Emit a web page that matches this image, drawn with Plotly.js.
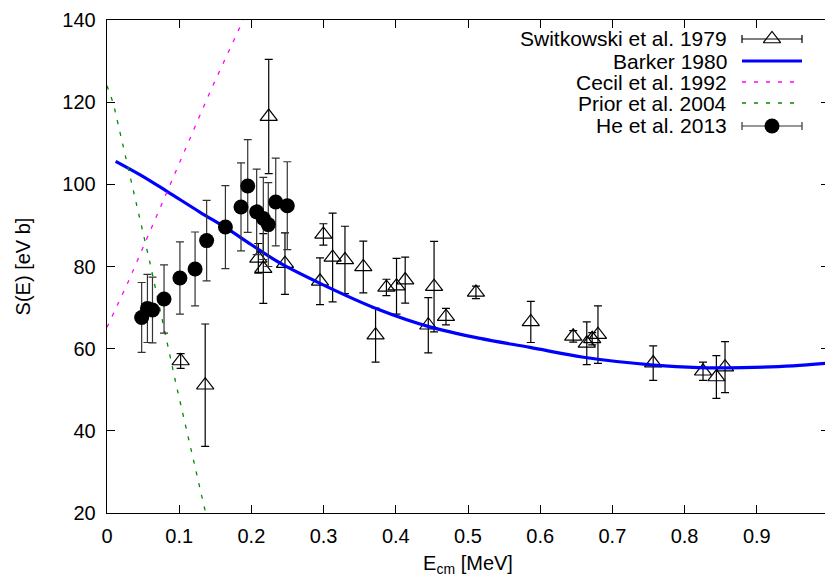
<!DOCTYPE html>
<html>
<head>
<meta charset="utf-8">
<script src="https://cdn.plot.ly/plotly-3.0.1.min.js"></script>
<style>
html,body{margin:0;padding:0;overflow:hidden;background:#fff;}
#chart{width:832px;height:579px;}
</style>
</head>
<body>
<div id="chart"></div>
<script>
// ---- Data ----
// Switkowski et al. 1979 (open triangles)
const swE   = [0.102, 0.136, 0.2096, 0.2165, 0.224, 0.2465, 0.295, 0.2997, 0.3125, 0.3296, 0.355, 0.372, 0.387, 0.401, 0.413, 0.445, 0.453, 0.4695, 0.511, 0.587, 0.6457, 0.6645, 0.672, 0.680, 0.7565, 0.8255, 0.844, 0.856];
const swS   = [57.0, 51.1, 82.0, 79.5, 116.5, 80.7, 76.4, 87.8, 82.2, 81.6, 79.9, 63.3, 74.9, 75.2, 76.7, 65.7, 75.1, 67.8, 73.7, 66.5, 63.0, 61.3, 62.4, 63.4, 56.5, 54.5, 53.1, 55.5];
const swErr = [1.8, 14.9, 3.6, 8.5, 13.9, 7.5, 5.7, 2.6, 10.8, 8.2, 6.3, 6.6, 2.0, 6.8, 5.6, 6.7, 11.0, 2.0, 1.5, 5.0, 1.4, 5.2, 1.5, 7.0, 4.2, 2.2, 5.2, 6.2];

// Barker 1980 (solid blue curve)
const barkerE = [0.012, 0.046, 0.083, 0.129, 0.165, 0.2, 0.24, 0.295, 0.378, 0.447, 0.517, 0.586, 0.66, 0.757, 0.82, 0.88, 0.95, 1.0];
const barkerS = [105.6, 102.3, 98.3, 93.2, 89.4, 85.3, 80.8, 75.9, 69.4, 65.3, 62.5, 60.3, 57.9, 56.0, 55.4, 55.4, 55.8, 56.5];

// Cecil et al. 1992 (magenta dashed)
const cecilE = [0.0, 0.0305, 0.1437, 0.19];
const cecilS = [65.2, 76.7, 122.9, 140.5];

// Prior et al. 2004 (green dashed)
const priorE = [0.0, 0.0088, 0.0596, 0.0965, 0.1357, 0.137];
const priorS = [124.0, 119.7, 80.8, 50.7, 20.7, 19.5];

// He et al. 2013 (filled circles)
const heE   = [0.048, 0.056, 0.063, 0.079, 0.101, 0.122, 0.138, 0.164, 0.1856, 0.1949, 0.2073, 0.2165, 0.2234, 0.2337, 0.2497];
const heS   = [67.6, 69.8, 69.4, 72.1, 77.2, 79.4, 86.3, 89.6, 94.5, 99.6, 93.3, 91.7, 90.2, 95.7, 94.8];
const heErr = [8.5, 8.3, 8.0, 8.3, 8.8, 9.0, 9.8, 10.1, 10.7, 11.3, 10.4, 10.0, 10.2, 10.7, 10.7];

// Axis ticks
const xTicks = [0, 0.1, 0.2, 0.3, 0.4, 0.5, 0.6, 0.7, 0.8, 0.9];
const xTickText = ['0', '0.1', '0.2', '0.3', '0.4', '0.5', '0.6', '0.7', '0.8', '0.9'];
const yTicks = [20, 40, 60, 80, 100, 120, 140];

const legendNames = ['Switkowski et al. 1979', 'Barker 1980', 'Cecil et al. 1992', 'Prior et al. 2004', 'He et al. 2013'];

// ---- Plot ----
const FONT = '"Liberation Sans", Arial, Helvetica, sans-serif';
const triMarker = {symbol: 'triangle-up-open', size: 15, color: 'black', line: {width: 1.2, color: 'black'}};
const traces = [
  {x: swE, y: swS, type: 'scatter', mode: 'markers', marker: triMarker,
   error_y: {type: 'data', array: swErr, visible: true, color: 'black', thickness: 1.2, width: 4},
   showlegend: false},
  {x: barkerE, y: barkerS, type: 'scatter', mode: 'lines',
   line: {color: '#0000ff', width: 3.2, shape: 'spline', smoothing: 1}, showlegend: false},
  {x: cecilE, y: cecilS, type: 'scatter', mode: 'lines',
   line: {color: '#ff00ff', width: 1.3, dash: '4px,8px'}, showlegend: false},
  {x: priorE, y: priorS, type: 'scatter', mode: 'lines',
   line: {color: '#008c00', width: 1.3, dash: '4px,8px'}, showlegend: false},
  {x: heE, y: heS, type: 'scatter', mode: 'markers',
   marker: {symbol: 'circle', size: 15, color: 'black'},
   error_y: {type: 'data', array: heErr, visible: true, color: '#333', thickness: 1.2, width: 4},
   showlegend: false}
];

// Legend (gnuplot style: text right-aligned, sample to the right)
const L = {textX: 0.8615, x0: 0.8795, x1: 0.9626, rows: [0.9615, 0.9168, 0.8742, 0.8316, 0.785]};
const xm = (L.x0 + L.x1) / 2, hw = (L.x1 - L.x0) / 2;
traces.push({x: [xm], y: [L.rows[0]], xaxis: 'x2', yaxis: 'y2', type: 'scatter', mode: 'markers',
  marker: triMarker,
  error_x: {type: 'constant', value: hw, visible: true, color: 'black', thickness: 1.2, width: 4},
  showlegend: false, hoverinfo: 'skip'});
traces.push({x: [xm], y: [L.rows[4]], xaxis: 'x2', yaxis: 'y2', type: 'scatter', mode: 'markers',
  marker: {symbol: 'circle', size: 15, color: 'black'},
  error_x: {type: 'constant', value: hw, visible: true, color: '#333', thickness: 1.2, width: 4},
  showlegend: false, hoverinfo: 'skip'});

const annotations = legendNames.map((n, i) => ({
  text: n, xref: 'paper', yref: 'paper', x: L.textX, y: L.rows[i],
  xanchor: 'right', yanchor: 'middle', showarrow: false,
  font: {family: FONT, size: 21, color: 'black'}
}));
const shapes = [
  {type: 'line', xref: 'paper', yref: 'paper', x0: L.x0, x1: L.x1, y0: L.rows[1], y1: L.rows[1], line: {color: '#0000ff', width: 3.2}},
  {type: 'line', xref: 'paper', yref: 'paper', x0: L.x0, x1: L.x1, y0: L.rows[2], y1: L.rows[2], line: {color: '#ff00ff', width: 1.3, dash: '4px,8px'}},
  {type: 'line', xref: 'paper', yref: 'paper', x0: L.x0, x1: L.x1, y0: L.rows[3], y1: L.rows[3], line: {color: '#008c00', width: 1.3, dash: '4px,8px'}}
];

const axisCommon = {
  showline: true, linecolor: 'black', linewidth: 1.3, mirror: 'ticks',
  ticks: 'inside', ticklen: 8, tickwidth: 1, tickcolor: 'black',
  showgrid: false, zeroline: false,
  tickfont: {family: FONT, size: 20, color: 'black'}
};

const layout = {
  width: 832, height: 579,
  margin: {l: 107, r: 3, t: 20, b: 66},
  paper_bgcolor: 'white', plot_bgcolor: 'white',
  font: {family: FONT, size: 20, color: 'black'},
  xaxis: Object.assign({}, axisCommon, {
    range: [0, 1], tickmode: 'array', tickvals: xTicks, ticktext: xTickText,
    ticklabelstandoff: 5,
    title: {text: 'E<sub>cm</sub> [MeV]', font: {family: FONT, size: 20, color: 'black'}, standoff: 9}
  }),
  yaxis: Object.assign({}, axisCommon, {
    range: [20, 140], tickmode: 'array', tickvals: yTicks,
    ticklabelstandoff: 6,
    title: {text: 'S(E) [eV b]', font: {family: FONT, size: 20, color: 'black'}, standoff: 26}
  }),
  xaxis2: {overlaying: 'x', range: [0, 1], visible: false, fixedrange: true},
  yaxis2: {overlaying: 'y', range: [0, 1], visible: false, fixedrange: true},
  annotations: annotations,
  shapes: shapes,
  showlegend: false
};

Plotly.newPlot('chart', traces, layout, {displayModeBar: false, staticPlot: true});
</script>
</body>
</html>
